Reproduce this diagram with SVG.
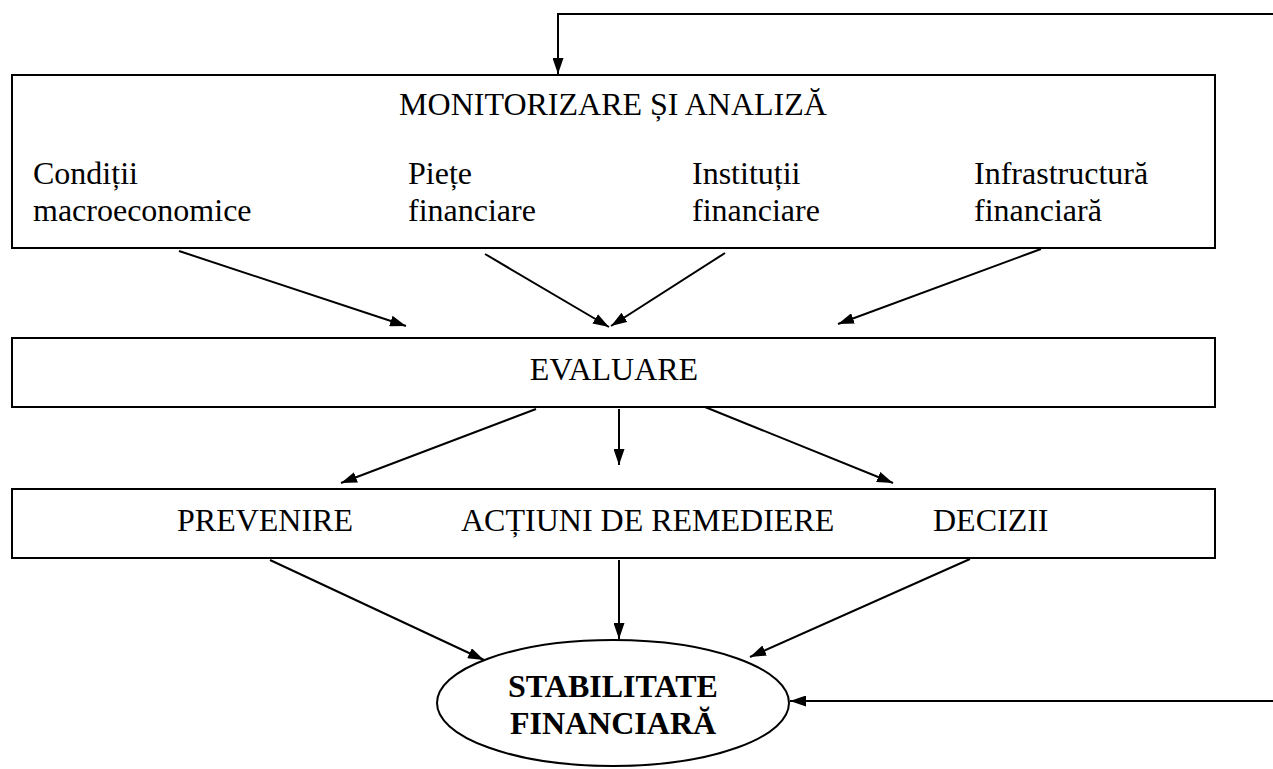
<svg xmlns="http://www.w3.org/2000/svg" width="1273" height="769" viewBox="0 0 1273 769">
<defs>
<marker id="ah" markerWidth="16" markerHeight="11" refX="16" refY="5.5" orient="auto" markerUnits="userSpaceOnUse">
<path d="M0,0 L16,5.5 L0,11 Z" fill="#000"/>
</marker>
<style>
.box{fill:#fff;stroke:#000;stroke-width:2}
.t{font-family:"Liberation Serif","Times New Roman",serif;font-size:32px;fill:#000}
.b{font-weight:bold}
.c{fill:none;stroke:#000;stroke-width:2;marker-end:url(#ah)}
</style>
</defs>
<rect width="1273" height="769" fill="#fff"/>
<g id="monitorizare">
<rect class="box" x="12" y="75" width="1203" height="173"/>
<text class="t" x="613" y="115" text-anchor="middle">MONITORIZARE ȘI ANALIZĂ</text>
<text class="t" x="33" y="184">Condiții</text>
<text class="t" x="33" y="221">macroeconomice</text>
<text class="t" x="408" y="184">Piețe</text>
<text class="t" x="408" y="221">financiare</text>
<text class="t" x="692" y="184">Instituții</text>
<text class="t" x="692" y="221">financiare</text>
<text class="t" x="974" y="184">Infrastructură</text>
<text class="t" x="974" y="221">financiară</text>
</g>
<g id="evaluare">
<rect class="box" x="12" y="338" width="1203" height="69"/>
<text class="t" x="614" y="380" text-anchor="middle">EVALUARE</text>
</g>
<g id="actiuni">
<rect class="box" x="12" y="489" width="1203" height="69"/>
<text class="t" x="177" y="531">PREVENIRE</text>
<text class="t" x="461" y="531">ACȚIUNI DE REMEDIERE</text>
<text class="t" x="933" y="531">DECIZII</text>
</g>
<g id="stabilitate">
<ellipse class="box" cx="613" cy="703" rx="176" ry="63"/>
<text class="t b" x="613" y="697" text-anchor="middle">STABILITATE</text>
<text class="t b" x="613" y="734" text-anchor="middle">FINANCIARĂ</text>
</g>
<g id="connectors">
<polyline class="c" points="1273,14 558,14 558,74"/>
<line class="c" x1="179" y1="251" x2="406" y2="326"/>
<line class="c" x1="485" y1="254" x2="609" y2="327"/>
<line class="c" x1="725" y1="253" x2="611" y2="326"/>
<line class="c" x1="1041" y1="249" x2="838" y2="324"/>
<line class="c" x1="536" y1="409" x2="341" y2="483"/>
<line class="c" x1="619" y1="409" x2="619" y2="465"/>
<line class="c" x1="705" y1="407" x2="893" y2="483"/>
<line class="c" x1="270" y1="560" x2="484" y2="660"/>
<line class="c" x1="619" y1="560" x2="619" y2="639"/>
<line class="c" x1="970" y1="559" x2="750" y2="657"/>
<line class="c" x1="1273" y1="701" x2="790" y2="701"/>
</g>
</svg>
